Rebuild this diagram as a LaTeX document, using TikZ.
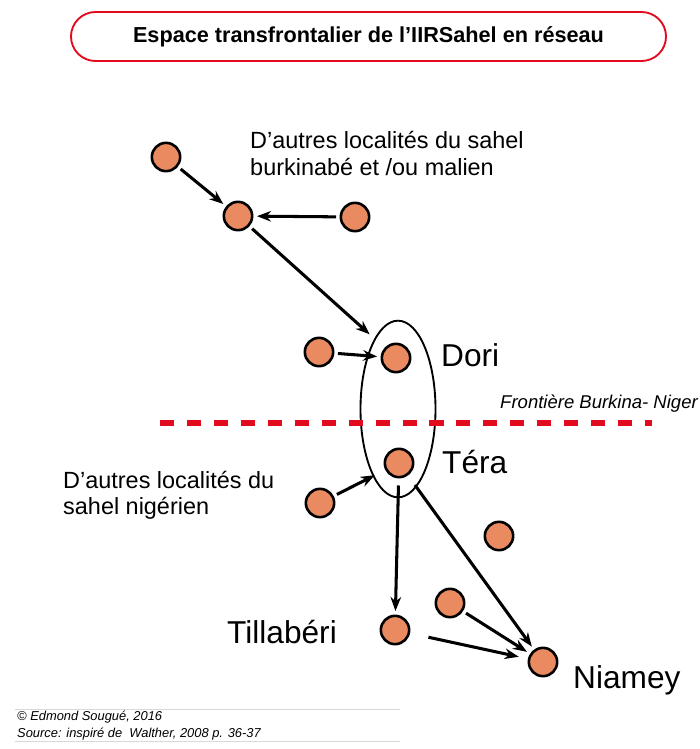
\documentclass[tikz,border=0pt]{standalone}
\usepackage{fontspec}
\setmainfont{Liberation Sans}
\usepackage{tikz}
\usetikzlibrary{shapes.geometric, arrows, arrows.meta}
\definecolor{ocre}{RGB}{234,138,96}
\definecolor{rouge}{RGB}{226,10,30}
\tikzstyle{arrow} = [line width=2.6pt,->,>={Stealth[length=12pt,width=9pt]},shorten >=3pt,shorten <=3pt]
\tikzstyle{loc} = [circle,draw,line width=2.2pt,fill=ocre,minimum size=0.85cm,inner sep=0pt]
\tikzstyle{ville} = [anchor=base west,inner sep=0pt,font=\fontsize{27}{30}\selectfont]
\tikzstyle{legende} = [anchor=base west,inner sep=0pt,align=left,font=\fontsize{20}{23}\selectfont]

\begin{document}
\begin{tikzpicture}[x=0.03cm,y=-0.03cm]
\useasboundingbox (0,0) rectangle (700,749);
% titre
\node[draw=rouge,line width=1.6pt,rounded corners=0.735cm,minimum width=17.85cm,minimum height=1.47cm,
  font=\fontsize{18.5}{22}\selectfont\bfseries] (titre) at (368.5,36.5)
  {Espace transfrontalier de l’IIRSahel en réseau};
% axe Dori - Tera
\node[ellipse,draw,line width=1.6pt,minimum width=2.25cm,minimum height=5.3cm] (axe) at (398,409) {};
\draw[rouge,line width=4.8pt,dash pattern=on 12pt off 11pt] (160,423) -- (652,423);
\node[anchor=base west,inner sep=0pt,font=\fontsize{15.8}{18}\selectfont\itshape] (front) at (500,408)
  {Frontière Burkina- Niger};
% localites
\node[loc] (bf1) at (166,157) {};
\node[loc] (bf2) at (238,216) {};
\node[loc] (bf3) at (355,217) {};
\node[loc] (bf4) at (319,352) {};
\node[loc] (dori) at (396,358) {};
\node[loc] (tera) at (399,463) {};
\node[loc] (ne1) at (320,503) {};
\node[loc] (ne2) at (499,536) {};
\node[loc] (ne3) at (450,603) {};
\node[loc] (till) at (395,630) {};
\node[loc] (niamey) at (543,662) {};
% noms
\node[ville] (ldori) at (441,366) {Dori};
\node[ville] (ltera) at (442,473) {Téra};
\node[ville] (ltill) at (227,643) {Tillabéri};
\node[ville] (lniamey) at (573,688) {Niamey};
\node[legende] (lburk) at (250,175) {D’autres localités du sahel\\burkinabé et /ou malien};
\node[legende,font=\fontsize{20}{22}\selectfont] (lniger) at (63,514) {D’autres localités du\\sahel nigérien};
% fleches
\draw[arrow] (bf1) -- (bf2);
\draw[arrow] (bf3) -- (bf2);
\draw[arrow,shorten >=17pt] (bf2) -- (dori);
\draw[arrow] (bf4) -- (dori);
\draw[arrow,shorten >=10pt] (ne1) -- (tera);
\draw[arrow,shorten <=6pt] (tera) -- (till);
\draw[arrow,shorten <=10pt] (tera) -- (niamey);
\draw[arrow] (ne3) -- (niamey);
\draw[arrow,shorten <=16pt,shorten >=8pt] (till) -- (niamey);
% source
\draw[gray!30,line width=0.6pt] (15,709) -- (400,709) (15,741) -- (400,741);
\node[anchor=base west,inner sep=0pt,align=left,font=\fontsize{11}{14}\selectfont\itshape] (source) at (17,737)
  {© Edmond Sougué, 2016\\Source: inspiré de\ \ Walther, 2008 p. 36-37};
\end{tikzpicture}
\end{document}
